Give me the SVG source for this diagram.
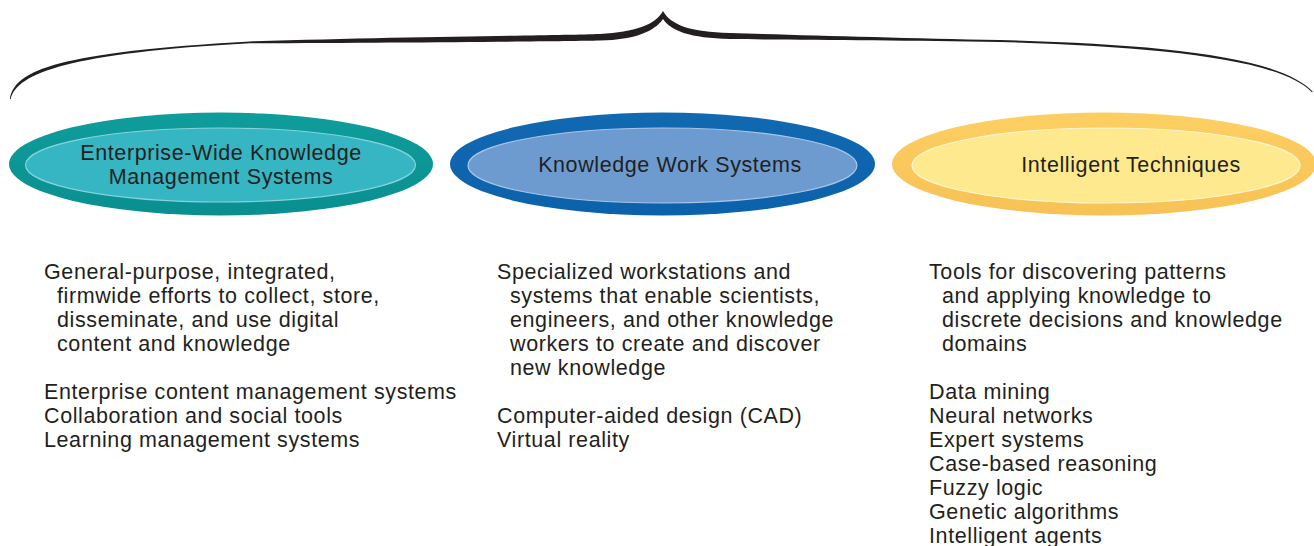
<svg xmlns="http://www.w3.org/2000/svg" width="1314" height="546" viewBox="0 0 1314 546">
<style>
text{font-family:"Liberation Sans",Arial,Helvetica,sans-serif;font-size:21.5px;letter-spacing:0.6px;fill:#231f20}
.lbl{text-anchor:middle}
</style>
<defs>
<linearGradient id="gTeal" x1="0" y1="0" x2="0" y2="1"><stop offset="0" stop-color="#0f9d9c"/><stop offset="1" stop-color="#0a8f90"/></linearGradient>
<linearGradient id="gBlue" x1="0" y1="0" x2="0" y2="1"><stop offset="0" stop-color="#1169b2"/><stop offset="1" stop-color="#0c62aa"/></linearGradient>
<linearGradient id="gYel" x1="0" y1="0" x2="0" y2="1"><stop offset="0" stop-color="#fdcf63"/><stop offset="1" stop-color="#f7c155"/></linearGradient>
</defs>
<rect width="1314" height="546" fill="#ffffff"/>
<g id="brace">
<path fill="#231f20" d="M10,99 C14,70 60,52 250,41.5 C400,36.5 560,35.5 600,34 C635,32 655,25 663,11 C671,25 690,32 730,33 C800,35 900,38 1000,40 C1150,44 1280,55 1313,92 L1311.5,92 C1280,58 1150,46.5 1000,42 C900,40 800,40 730,39 C690,38 671,31 663,19 C655,31 635,40 600,40.5 C560,41.5 400,42.5 250,43.3 C70,53 17,73 10.8,99 Z"/>
</g>
<g id="node-ewkms">
<ellipse cx="221" cy="164" rx="212" ry="51.5" fill="url(#gTeal)"/>
<ellipse cx="220.5" cy="165" rx="195" ry="37" fill="#36b5c3" stroke="#86d3dc" stroke-width="1.2"/>
<text class="lbl" x="221" y="159.5">Enterprise-Wide Knowledge</text>
<text class="lbl" x="221" y="183.5">Management Systems</text>
</g>
<g id="node-kws">
<ellipse cx="662.5" cy="164" rx="212.5" ry="51.5" fill="url(#gBlue)"/>
<ellipse cx="662.5" cy="165.5" rx="194.5" ry="37.5" fill="#6d9bd0" stroke="#a9c5e6" stroke-width="1.2"/>
<text class="lbl" x="670" y="171.5">Knowledge Work Systems</text>
</g>
<g id="node-it">
<ellipse cx="1104" cy="164" rx="212" ry="51.5" fill="url(#gYel)"/>
<ellipse cx="1106" cy="165.5" rx="194" ry="37.5" fill="#fee98e" stroke="#fff7d2" stroke-width="1.2"/>
<text class="lbl" x="1131" y="171.5">Intelligent Techniques</text>
</g>
<g id="connectors"></g>
<g id="desc-ewkms">
<text x="44" y="279">General-purpose, integrated,</text>
<text x="57" y="303">firmwide efforts to collect, store,</text>
<text x="57" y="327">disseminate, and use digital</text>
<text x="57" y="351">content and knowledge</text>
<text x="44" y="399">Enterprise content management systems</text>
<text x="44" y="423">Collaboration and social tools</text>
<text x="44" y="447">Learning management systems</text>
</g>
<g id="desc-kws">
<text x="497" y="279">Specialized workstations and</text>
<text x="510" y="303">systems that enable scientists,</text>
<text x="510" y="327">engineers, and other knowledge</text>
<text x="510" y="351">workers to create and discover</text>
<text x="510" y="375">new knowledge</text>
<text x="497" y="423">Computer-aided design (CAD)</text>
<text x="497" y="447">Virtual reality</text>
</g>
<g id="desc-it">
<text x="929" y="279">Tools for discovering patterns</text>
<text x="942" y="303">and applying knowledge to</text>
<text x="942" y="327">discrete decisions and knowledge</text>
<text x="942" y="351">domains</text>
<text x="929" y="399">Data mining</text>
<text x="929" y="423">Neural networks</text>
<text x="929" y="447">Expert systems</text>
<text x="929" y="471">Case-based reasoning</text>
<text x="929" y="495">Fuzzy logic</text>
<text x="929" y="519">Genetic algorithms</text>
<text x="929" y="543">Intelligent agents</text>
</g>
</svg>
